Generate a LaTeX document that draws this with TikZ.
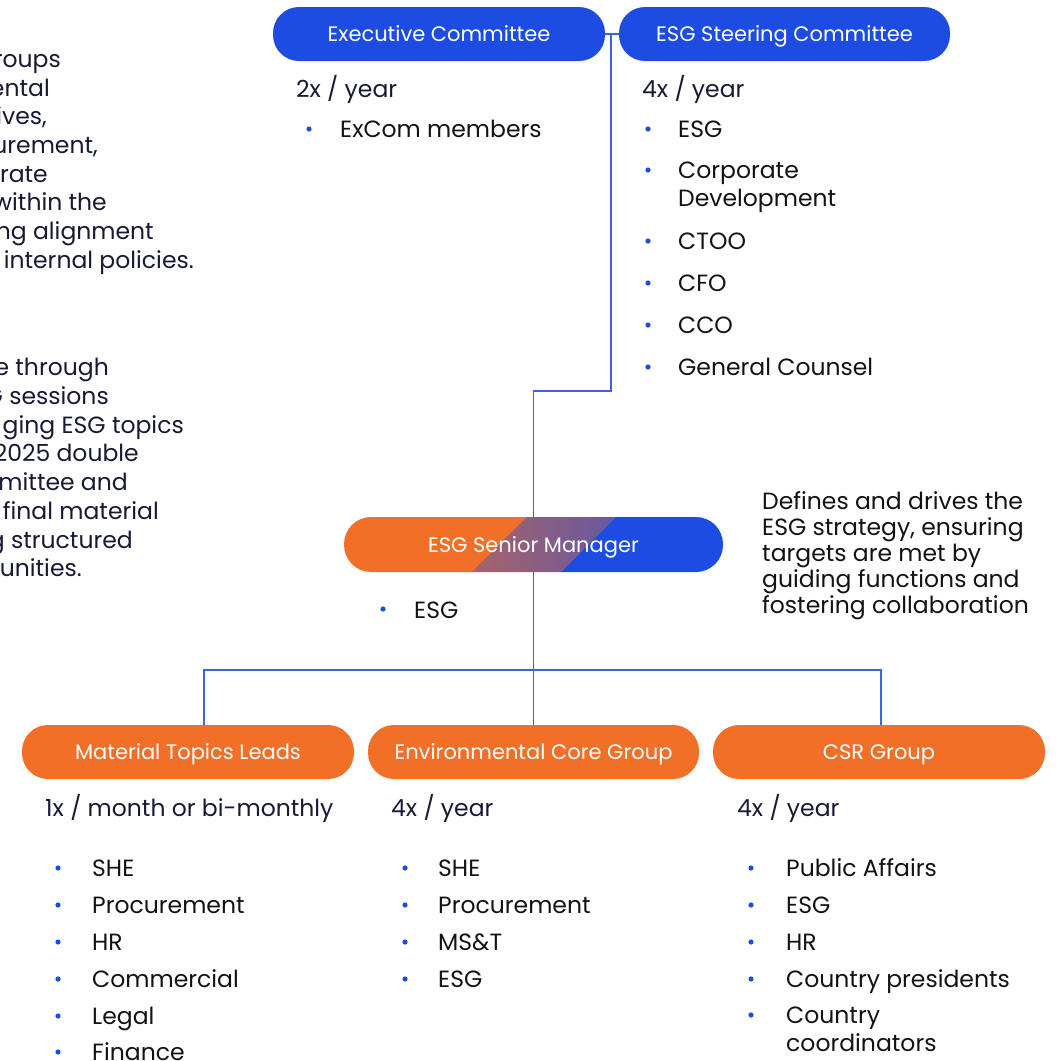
\documentclass[tikz,border=0pt]{standalone}
\usepackage{fontspec}
\setmainfont{Poppins}
\definecolor{blu}{HTML}{1D4CE3}
\definecolor{orng}{HTML}{F26F27}
\definecolor{navy}{HTML}{161A33}
\definecolor{ink}{HTML}{121212}
\definecolor{lineblue}{HTML}{3A63EA}
\tikzset{
  pill/.style={rounded corners=26pt, minimum height=54pt, inner sep=0pt, text=white,
    text height=20pt, text depth=4.6pt, font=\fontsize{21}{24}\selectfont},
  bluepill/.style={pill, fill=blu, minimum width=332pt},
  orangepill/.style={pill, fill=orng, minimum width=332pt},
  conn/.style={draw=lineblue, line width=1.3pt},
  body/.style={anchor=base west, inner sep=0pt, font=\fontsize{23.5}{26}\selectfont, text=navy},
  item/.style={anchor=base west, inner sep=0pt, font=\fontsize{23.5}{26}\selectfont, text=ink},
  side/.style={anchor=base east, inner sep=0pt, font=\fontsize{23.5}{26}\selectfont, text=navy},
  para/.style={anchor=base west, inner sep=0pt, font=\fontsize{23.5}{26}\selectfont, text=ink},
  dot/.style={fill=blu}
}
\begin{document}
\begin{tikzpicture}[x=1pt,y=1pt]
\useasboundingbox (0,0) rectangle (1059,-1061);
\clip (0,0) rectangle (1059,-1061);

% top nodes
\node[bluepill] (exec) at (439,-34) {Executive Committee};
\node[bluepill, minimum width=331pt] (steer) at (784.5,-34) {ESG Steering Committee};

% senior manager background with diagonal gradient
\begin{scope}
  \clip[rounded corners=27pt] (344,-517) rectangle (723,-572);
  \begin{scope}[shift={(544,-544.5)}, rotate=-45]
    \fill[orng] (-300,-300) rectangle (-31,300);
    \fill[blu] (31,-300) rectangle (300,300);
    \shade[left color=orng, right color=blu] (-31.5,-300) rectangle (31.5,300);
  \end{scope}
\end{scope}
\node[pill, minimum width=379pt, minimum height=55pt] (senior) at (533.5,-544.5) {ESG Senior Manager};

% bottom nodes
\node[orangepill] (mat) at (188,-752) {Material Topics Leads};
\node[orangepill, minimum width=331pt] (env) at (533.5,-752) {Environmental Core Group};
\node[orangepill] (csr) at (879,-752) {CSR Group};

% connectors
\coordinate (j1) at (611,-34);
\coordinate (k1) at (533.5,-391);
\coordinate (h1) at (204,-670);
\coordinate (h2) at (881,-670);
\draw[conn] (exec.east) -- (steer.west);
\draw[conn] (j1) |- (k1) -- (senior.north);
\draw[conn] (senior.south) -- (env.north);
\draw[conn] (mat.north -| h1) -- (h1) -- (h2) -- (csr.north -| h2);

% left cut-off paragraphs
\node[side] (l1) at (61,-67) {roups};
\node[side] (l2) at (50,-96) {ental};
\node[side] (l3) at (47,-124) {ives,};
\node[side] (l4) at (98,-153) {urement,};
\node[side] (l5) at (48,-182) {rate};
\node[side] (l6) at (107,-210) {within the};
\node[side] (l7) at (154,-239) {ng alignment};
\node[side] (l8) at (194,-268) {internal policies.};

\node[side] (m1) at (109,-375) {e through};
\node[side] (m2) at (109,-404) {G sessions};
\node[side] (m3) at (184,-433) {ging ESG topics};
\node[side] (m4) at (139,-461) {2025 double};
\node[side] (m5) at (128,-490) {mmittee and};
\node[side] (m6) at (159,-519) {final material};
\node[side] (m7) at (133,-548) {g structured};
\node[side] (m8) at (82,-576) {unities.};

% Executive committee details
\node[body] (e0) at (296,-97) {2x / year};
\fill[dot] (309,-129) circle (2.6);
\node[item] (e1) at (340,-137) {ExCom members};

% Steering committee details
\node[body] (s0) at (642,-97) {4x / year};
\foreach \y/\t [count=\i] in {137/ESG, 178/Corporate, 249/CTOO, 291/CFO, 333/CCO, 375/General Counsel}{
  \fill[dot] (648,-\y+8) circle (2.6);
  \node[item] (s\i) at (678,-\y) {\t};
}
\node[item] (s7) at (678,-206) {Development};

% Senior manager details
\fill[dot] (383,-609) circle (2.6);
\node[item] (g1) at (414,-618) {ESG};
\node[para] (p1) at (762,-509) {Defines and drives the};
\node[para] (p2) at (762,-535) {ESG strategy, ensuring};
\node[para] (p3) at (762,-561) {targets are met by};
\node[para] (p4) at (762,-587) {guiding functions and};
\node[para] (p5) at (762,-613) {fostering collaboration};

% Material topics leads
\node[body] (a0) at (45,-816) {1x / month or bi-monthly};
\foreach \y/\t [count=\i] in {876/SHE, 913/Procurement, 950/HR, 987/Commercial, 1024/Legal, 1060/Finance}{
  \fill[dot] (58,-\y+8) circle (2.6);
  \node[item] (a\i) at (92,-\y) {\t};
}

% Environmental core group
\node[body] (b0) at (391,-816) {4x / year};
\foreach \y/\t [count=\i] in {876/SHE, 913/Procurement, 950/MS\&T, 987/ESG}{
  \fill[dot] (405,-\y+8) circle (2.6);
  \node[item] (b\i) at (438,-\y) {\t};
}

% CSR group
\node[body] (c0) at (737,-816) {4x / year};
\foreach \y/\t [count=\i] in {876/Public Affairs, 913/ESG, 950/HR, 987/Country presidents, 1023/Country}{
  \fill[dot] (751,-\y+8) circle (2.6);
  \node[item] (c\i) at (786,-\y) {\t};
}
\node[item] (c6) at (786,-1051) {coordinators};
\end{tikzpicture}
\end{document}
